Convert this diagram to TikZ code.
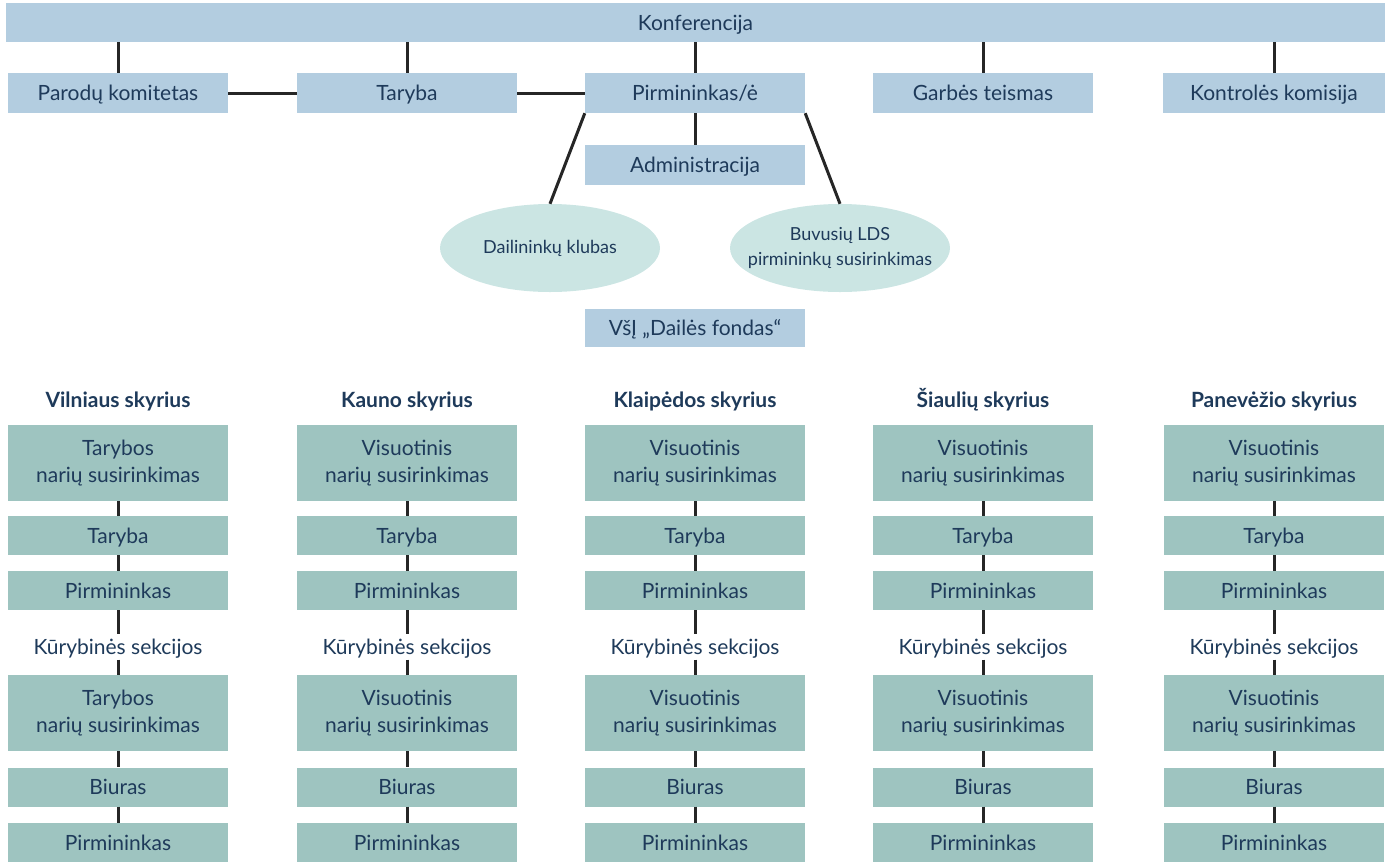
\documentclass[tikz,border=0pt]{standalone}
\usepackage{fontspec}
\setmainfont{Lato}
\usetikzlibrary{shapes.geometric}

\definecolor{topblue}{HTML}{B3CDE0}
\definecolor{branchteal}{HTML}{9EC4C0}
\definecolor{ovalteal}{HTML}{CBE5E3}
\definecolor{inkblue}{HTML}{1E3A5A}
\definecolor{linegrey}{HTML}{262626}

\begin{document}
\begin{tikzpicture}[x=1pt, y=-1pt,
    every node/.style={text=inkblue, font=\fontsize{21}{27}\selectfont, inner sep=0pt},
    oneline/.style={text height=17pt, text depth=2pt},
    topbox/.style={oneline, fill=topblue, minimum width=220pt, minimum height=40pt},
    branchbox/.style={oneline, fill=branchteal, minimum width=220pt, minimum height=39pt},
    tallbox/.style={fill=branchteal, minimum width=220pt, minimum height=76pt, align=center},
    oval/.style={ellipse, fill=ovalteal, minimum width=220pt, minimum height=88pt, align=center,
        inner xsep=-20pt, font=\fontsize{18}{25}\selectfont},
    link/.style={draw=linegrey, line width=3pt}
]

\useasboundingbox (0,0) rectangle (1391,863);

% Top part
\node[topbox, minimum width=1379pt, minimum height=39pt] (konf) at (695.5,22.5) {Konferencija};

\node[topbox] (parod) at (118,93) {Parodų komitetas};
\node[topbox] (taryba) at (407,93) {Taryba};
\node[topbox] (pirm) at (695,93) {Pirmininkas/ė};
\node[topbox] (garbe) at (983,93) {Garbės teismas};
\node[topbox, minimum width=222pt] (kontr) at (1274,93) {Kontrolės komisija};

\node[topbox] (admin) at (695,165) {Administracija};

\node[oval] (klubas) at (550,248) {Dailininkų klubas};
\node[oval] (buvusiu) at (840,248) {Buvusių LDS\\pirmininkų susirinkimas};

\node[topbox, minimum height=38pt] (fondas) at (695,328) {VšĮ „Dailės fondas“};

\draw[link] (parod.north) -- (parod.north |- konf.south);
\draw[link] (taryba.north) -- (taryba.north |- konf.south);
\draw[link] (pirm.north) -- (pirm.north |- konf.south);
\draw[link] (garbe.north) -- (garbe.north |- konf.south);
\draw[link] (kontr.north) -- (kontr.north |- konf.south);

\draw[link] (parod) -- (taryba);
\draw[link] (taryba) -- (pirm);
\draw[link] (pirm) -- (admin);
\draw[link] (pirm.south west) -- (klubas.north);
\draw[link] (pirm.south east) -- (buvusiu.north);

% Branches
\foreach \cx/\br/\head [count=\i] in {118/Vilniaus skyrius/Tarybos, 407/Kauno skyrius/Visuotinis,
    695/Klaipėdos skyrius/Visuotinis, 983/Šiaulių skyrius/Visuotinis, 1274/Panevėžio skyrius/Visuotinis}{
  \node[oneline, font=\fontsize{21}{27}\selectfont\bfseries] (hd\i) at (\cx,400) {\br};
  \node[tallbox] (sus\i) at (\cx,463) {\head\\narių susirinkimas};
  \node[branchbox] (tar\i) at (\cx,535.5) {Taryba};
  \node[branchbox] (pir\i) at (\cx,590.5) {Pirmininkas};
  \node[oneline, minimum height=25pt] (sek\i) at (\cx,647) {Kūrybinės sekcijos};
  \node[tallbox] (visu\i) at (\cx,713) {\head\\narių susirinkimas};
  \node[branchbox] (biu\i) at (\cx,787) {Biuras};
  \node[branchbox] (pirb\i) at (\cx,842.5) {Pirmininkas};
  \draw[link] (sus\i) -- (tar\i);
  \draw[link] (tar\i) -- (pir\i);
  \draw[link] (pir\i) -- (sek\i);
  \draw[link] (sek\i) -- (visu\i);
  \draw[link] (visu\i) -- (biu\i);
  \draw[link] (biu\i) -- (pirb\i);
}

\end{tikzpicture}
\end{document}
